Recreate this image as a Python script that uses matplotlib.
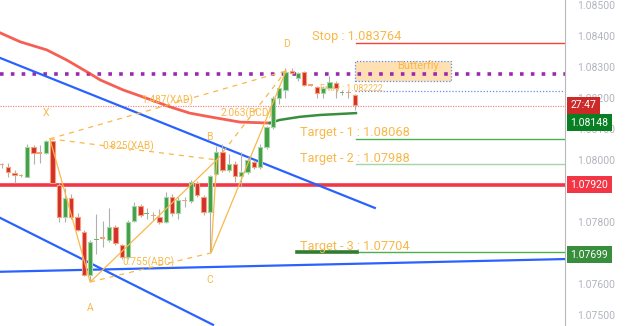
import matplotlib.pyplot as plt
from matplotlib.patches import Rectangle

plt.rcParams['font.family'] = ['Roboto', 'DejaVu Sans']

# candles (open, high, low, close), one per bar index
opens = [1.07985, 1.07977, 1.07958, 1.07949, 1.07945, 1.08042, 1.08022, 1.08022, 1.08061, 1.07919,
         1.07816, 1.07877, 1.07816, 1.07768, 1.07629, 1.07742, 1.07748, 1.07742, 1.07784, 1.07726,
         1.07687, 1.07803, 1.07851, 1.07825, 1.07820, 1.07816, 1.07800, 1.07880, 1.07829, 1.07869,
         1.07868, 1.07926, 1.07880, 1.07832, 1.07955, 1.08026, 1.07968, 1.07987, 1.07948, 1.07961,
         1.07993, 1.07977, 1.08042, 1.08106, 1.08200, 1.08226, 1.08287, 1.08264, 1.08284, 1.08242,
         1.08235, 1.08216, 1.08232, 1.08248, 1.08215, 1.08217, 1.08210]
highs = [1.07990, 1.07990, 1.07968, 1.07955, 1.08051, 1.08048, 1.08048, 1.08064, 1.08064, 1.07926,
         1.07909, 1.07890, 1.07829, 1.07774, 1.07740, 1.07826, 1.07803, 1.07845, 1.07790, 1.07730,
         1.07805, 1.07864, 1.07858, 1.07845, 1.07832, 1.07842, 1.07897, 1.07890, 1.07880, 1.07880,
         1.07935, 1.07932, 1.07887, 1.07952, 1.08045, 1.08050, 1.08020, 1.07995, 1.08026, 1.08010,
         1.08000, 1.08050, 1.08110, 1.08205, 1.08240, 1.08296, 1.08296, 1.08284, 1.08287, 1.08245,
         1.08240, 1.08238, 1.08270, 1.08255, 1.08225, 1.08225, 1.08212]
lows = [1.07975, 1.07945, 1.07926, 1.07945, 1.07945, 1.07987, 1.07990, 1.08020, 1.07926, 1.07800,
        1.07800, 1.07810, 1.07770, 1.07625, 1.07610, 1.07697, 1.07720, 1.07735, 1.07725, 1.07680,
        1.07680, 1.07800, 1.07815, 1.07810, 1.07805, 1.07793, 1.07795, 1.07820, 1.07810, 1.07848,
        1.07862, 1.07880, 1.07822, 1.07703, 1.07950, 1.07960, 1.07960, 1.07929, 1.07913, 1.07955,
        1.07970, 1.07970, 1.08035, 1.08100, 1.08180, 1.08200, 1.08275, 1.08255, 1.08238, 1.08238,
        1.08200, 1.08200, 1.08228, 1.08200, 1.08210, 1.08200, 1.08161]
closes = [1.07984, 1.07961, 1.07951, 1.07948, 1.08042, 1.08022, 1.08020, 1.08061, 1.07926, 1.07816,
          1.07877, 1.07816, 1.07774, 1.07629, 1.07735, 1.07745, 1.07746, 1.07784, 1.07732, 1.07687,
          1.07800, 1.07851, 1.07822, 1.07827, 1.07818, 1.07800, 1.07880, 1.07829, 1.07871, 1.07867,
          1.07929, 1.07887, 1.07832, 1.07948, 1.08026, 1.07968, 1.07987, 1.07948, 1.07961, 1.08000,
          1.07977, 1.08042, 1.08106, 1.08200, 1.08232, 1.08284, 1.08280, 1.08280, 1.08242, 1.08240,
          1.08216, 1.08232, 1.08251, 1.08232, 1.08217, 1.08215, 1.08177]

# moving average readings (bar index, price); red while above price, green after
ma_red_idx = [-0.3, 2.9, 7.1, 10.3, 13.5, 15.6, 19.2, 22.4, 26.7, 29.8, 33.0, 37.8, 42.5]
ma_red_val = [1.08410, 1.08381, 1.08355, 1.08322, 1.08284, 1.08258, 1.08226, 1.08203, 1.08171,
              1.08151, 1.08139, 1.08122, 1.08119]
ma_green_idx = [42.5, 44.1, 47.3, 50.5, 56.2]
ma_green_val = [1.08119, 1.08129, 1.08139, 1.08145, 1.08151]

# channel / trend lines (start, end)
upper_idx, upper_val = [-0.3, 59.2], [1.08329, 1.07845]
lower_idx, lower_val = [-0.3, 33.5], [1.07813, 1.07468]
base_idx, base_val = [-0.3, 89.4], [1.07639, 1.07680]

# horizontal levels
support = 1.07920
purple_level = 1.08277
last_price = 1.08174
entry = 1.082222
stop = 1.083764
targets = [1.08068, 1.07988, 1.07704]

# harmonic XABCD points
pat_names = ['X', 'A', 'B', 'C', 'D']
pat_idx = [7.6, 14.0, 34.1, 33.2, 45.1]
pat_val = [1.08068, 1.07606, 1.08000, 1.07700, 1.08287]
ratios = ['0.825(XAB)', '1.487(XAD)', '0.755(ABC)', '2.063(BCD)']

# right axis (1.079 and 1.077 sit under the price tags)
tick_vals = [1.085, 1.084, 1.083, 1.082, 1.081, 1.080, 1.078, 1.076, 1.075]

ORANGE = '#f9b84a'
GREEN_UP = '#43a047'
RED_DN = '#d32f2f'

fig = plt.figure(figsize=(6.25, 3.26), dpi=100)
ax = fig.add_axes([0, 0, 565 / 625, 1])
ax.set_xlim(-0.32, 89.4)
ax.set_ylim(1.07464, 1.08516)

# levels
ax.axhline(support, color='#f23645', lw=2.6, zorder=2)
ax.axhline(purple_level, color='#9c27b0', lw=2.6, ls=(0, (1, 2)), zorder=2)
ax.axhline(last_price, color='#f28b8b', lw=0.9, ls=(0, (1, 1)), zorder=1)
ax.plot([56.0, 89.4], [entry, entry], color='#5b8def', lw=0.9, ls=(0, (1, 1.5)), zorder=1)
ax.plot([56.2, 89.4], [stop, stop], color='#f44336', lw=1.0, zorder=2)
ax.plot([56.2, 89.4], [targets[0], targets[0]], color='#4caf50', lw=1.0, zorder=2)
ax.plot([56.2, 89.4], [targets[1], targets[1]], color='#a5d6a7', lw=1.0, zorder=2)
ax.plot([56.3, 89.4], [targets[2], targets[2]], color='#4caf50', lw=1.0, zorder=2)
ax.plot([46.8, 56.3], [targets[2], targets[2]], color='#2e7d32', lw=2.6, zorder=2)

# trend lines
ax.plot(upper_idx, upper_val, color='#2962ff', lw=1.6, zorder=2)
ax.plot(lower_idx, lower_val, color='#2962ff', lw=1.6, zorder=2)
ax.plot(base_idx, base_val, color='#2962ff', lw=1.6, zorder=2)

# moving average
ax.plot(ma_red_idx, ma_red_val, color='#f44336', lw=2.0, alpha=0.85, zorder=2)
ax.plot(ma_green_idx, ma_green_val, color='#388e3c', lw=1.8, zorder=2)

# butterfly box
ax.add_patch(Rectangle((56.0, 1.08255), 15.3, 0.00064, fc='#ffe0b2', ec='#5b8def',
                       lw=0.9, ls=(0, (1, 1.5)), zorder=1))
ax.text(66.0, 1.08303, 'Butterfly', color=ORANGE, fontsize=8, ha='center', va='center', zorder=2)

ax.text(60.5, 1.08232, 'Entry : 1.082222', color=ORANGE, fontsize=6.3, ha='right', va='center',
        zorder=1)

# candles
for i, (o, h, l, c) in enumerate(zip(opens, highs, lows, closes)):
    up = c >= o
    ax.vlines(i, l, h, color='#b0b0b0', lw=0.8, zorder=3)
    body = abs(c - o)
    if body < 0.00004:
        col = '#66bb6a' if up else '#f7a172'
        ax.add_patch(Rectangle((i - 0.38, min(o, c)), 0.76, 0.00004, fc=col, ec='none', zorder=4))
    else:
        fc = GREEN_UP if up else RED_DN
        ec = '#a5d6a7' if up else '#f7a172'
        ax.add_patch(Rectangle((i - 0.34, min(o, c)), 0.68, body, fc=fc, ec=ec, lw=0.8, zorder=4))

# pattern legs
ax.plot(pat_idx, pat_val, color=ORANGE, lw=0.9, zorder=5)
for a, b in [(0, 2), (0, 4), (1, 3), (2, 4)]:
    ax.plot([pat_idx[a], pat_idx[b]], [pat_val[a], pat_val[b]], color=ORANGE, lw=0.9,
            ls=(0, (4, 4)), zorder=5)

lbl_pos = [(7.0, 1.08151), (14.0, 1.07522), (33.0, 1.08074), (33.0, 1.07613), (45.1, 1.08374)]
for name, (x, y) in zip(pat_names, lbl_pos):
    ax.text(x, y, name, color=ORANGE, fontsize=7.5, ha='center', va='center', zorder=6)
ratio_pos = [(20.0, 1.08045), (26.2, 1.08193), (23.2, 1.07671), (38.9, 1.08151)]
for t, (x, y) in zip(ratios, ratio_pos):
    ax.text(x, y, t, color=ORANGE, fontsize=7.3, ha='center', va='center', zorder=6)

# stop / target texts
ax.text(49.2, 1.08397, f'Stop : {stop:.6f}', color=ORANGE, fontsize=9.2, va='center', zorder=6)
for n, (t, y) in enumerate(zip(targets, [1.08090, 1.08006, 1.07722]), 1):
    ax.text(47.3, y, f'Target - {n} : {t:.5f}', color=ORANGE, fontsize=9.2, va='center', zorder=6)

# right price axis
for s in ['top', 'left', 'bottom']:
    ax.spines[s].set_visible(False)
ax.spines['right'].set_color('#b8b8b8')
ax.set_xticks([])
ax.yaxis.tick_right()
ax.set_yticks(tick_vals)
ax.set_yticklabels([f'{v:.5f}' for v in tick_vals])
ax.tick_params(axis='y', length=0, pad=9, labelsize=7.5, labelcolor='#b2b5be')

tags = [(1.08176, '27:47', '#cc2929'), (1.08120, '1.08148', '#087f23'),
        (1.07920, '1.07920', '#f23645'), (1.07694, '1.07699', '#388e3c')]
for y, t, col in tags:
    ax.annotate(t, xy=(1.0, y), xycoords=('axes fraction', 'data'), xytext=(4, 0),
                textcoords='offset points', color='white', fontsize=7.5, va='center', ha='left',
                bbox=dict(boxstyle='square,pad=0.35', fc=col, ec='none'), annotation_clip=False,
                zorder=10)

fig.savefig('out.png', dpi=100)
